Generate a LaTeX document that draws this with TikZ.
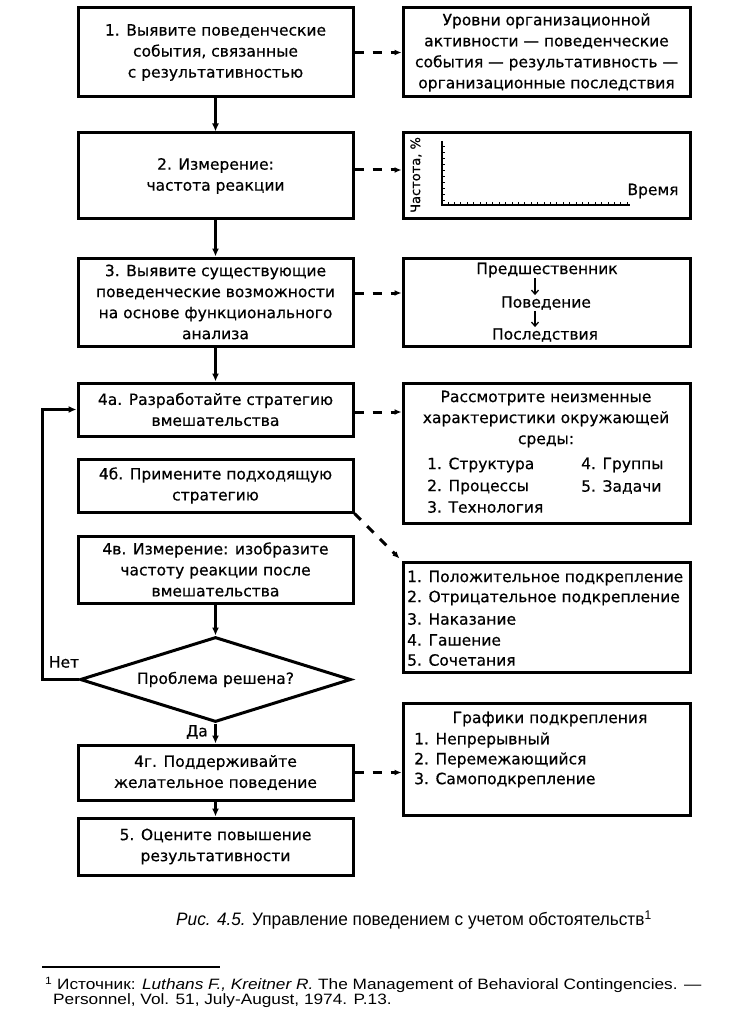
\documentclass[tikz,border=0pt]{standalone}
\usepackage{fontspec}
\setmainfont[FakeBold=0.5]{DejaVu Sans}
\newfontfamily\boxfont[FakeBold=0.5]{DejaVu Sans}
\newfontfamily\capfont[FakeStretch=0.957]{Liberation Sans}
\newfontfamily\fnfont[FakeStretch=1.15]{Liberation Sans}
\usetikzlibrary{arrows.meta,shapes.geometric}
\begin{document}
\begin{tikzpicture}[x=1pt,y=-1pt,
  every node/.style={font=\boxfont\fontsize{15.5}{21}\selectfont},
  lbox/.style={draw,line width=3pt,minimum width=275pt,inner sep=0pt,align=center},
  rbox/.style={draw,line width=3pt,minimum width=287pt,inner sep=0pt,align=center},
  txt/.style={inner sep=1pt},
  solidar/.style={line width=3pt,-{Latex[length=8pt,width=7pt]}},
  dashar/.style={line width=3pt,dash pattern=on 9pt off 9pt,-{Latex[length=7pt,width=6pt]}},
  smallar/.style={line width=1.3pt,-{Straight Barb[length=4pt,width=7pt]}},
  axis/.style={line width=2pt}]
\useasboundingbox (0,0) rectangle (733,1024);
% left column
\node[lbox,minimum height=89pt] (b1) at (215.5,52.5) {1. Выявите поведенческие\\события, связанные\\с результативностью};
\node[lbox,minimum height=86pt] (b2) at (215.5,176) {2. Измерение:\\частота реакции};
\node[lbox,minimum height=88pt] (b3) at (215.5,302) {3. Выявите существующие\\поведенческие возможности\\на основе функционального\\анализа};
\node[lbox,minimum height=53pt] (b4a) at (215.5,409.5) {4а. Разработайте стратегию\\вмешательства};
\node[lbox,minimum height=53pt] (b4b) at (215.5,485.5) {4б. Примените подходящую\\стратегию};
\node[lbox,minimum height=67pt] (b4v) at (215.5,569.5) {4в. Измерение: изобразите\\частоту реакции после\\вмешательства};
\node[draw,line width=3pt,shape=diamond,aspect=3.19,minimum width=271pt,minimum height=85pt,inner sep=0pt] (dia) at (215.5,679.5) {Проблема решена?};
\node[lbox,minimum height=55pt] (b4g) at (215.5,772.5) {4г. Поддерживайте\\желательное поведение};
\node[lbox,minimum height=57pt] (b5) at (215.5,846.5) {5. Оцените повышение\\результативности};
% right column
\node[rbox,minimum height=89pt] (r1) at (546.5,52.5) {Уровни организационной\\активности — поведенческие\\события — результативность —\\организационные последствия};
\node[rbox,minimum height=86pt] (r2) at (546.5,176) {};
\node[rbox,minimum height=88pt] (r3) at (546.5,302) {};
\node[rbox,minimum height=140pt] (r4) at (546.5,453) {};
\node[rbox,minimum height=110pt] (r5) at (546.5,617) {};
\node[rbox,minimum height=112pt] (r6) at (546.5,759) {};
% chart in r2
\coordinate (o) at (442,205);
\coordinate (ytop) at (442,141);
\coordinate (xend) at (630,205);
\draw[axis] (ytop) -- (o) -- (xend);
\foreach \i in {0,...,9} \draw[line width=1pt] (442,{147+6*\i}) -- ++(3,0);
\foreach \i in {0,...,28} \draw[line width=1pt] ({448+6.4*\i},205) -- ++(0,-3);
\node[txt,rotate=90,font=\boxfont\fontsize{13}{16}\selectfont] (yl) at (416,175) {Частота, \%};
\node[txt] (xl) at (653,191) {Время};
% r3 content
\node[txt] (pred) at (547,270) {Предшественник};
\node[txt] (pov) at (546,303) {Поведение};
\node[txt] (posl) at (545,335) {Последствия};
\coordinate (ax3) at (535,0);
\draw[smallar] (pred.south -| ax3) -- (pov.north -| ax3);
\draw[smallar] (pov.south -| ax3) -- (posl.north -| ax3);
% r4 content
\node[txt,align=center] (r4h) at (546,419) {Рассмотрите неизменные\\характеристики окружающей\\среды:};
\node[txt,anchor=west] (s1) at (426,465) {1. Структура};
\node[txt,anchor=west] (s2) at (426,487) {2. Процессы};
\node[txt,anchor=west] (s3) at (426,507) {3. Технология};
\node[txt,anchor=west] (s4) at (580,465) {4. Группы};
\node[txt,anchor=west] (s5) at (580,487) {5. Задачи};
% r5 content
\node[txt,anchor=west] (p1) at (406,578) {1. Положительное подкрепление};
\node[txt,anchor=west] (p2) at (406,598) {2. Отрицательное подкрепление};
\node[txt,anchor=west] (p3) at (406,619) {3. Наказание};
\node[txt,anchor=west] (p4) at (406,640) {4. Гашение};
\node[txt,anchor=west] (p5) at (406,660) {5. Сочетания};
% r6 content
\node[txt] (g0) at (550,719) {Графики подкрепления};
\node[txt,anchor=west] (g1) at (413,740) {1. Непрерывный};
\node[txt,anchor=west] (g2) at (413,760) {2. Перемежающийся};
\node[txt,anchor=west] (g3) at (413,780) {3. Самоподкрепление};
% solid arrows
\draw[solidar] (b1) -- (b2);
\draw[solidar] (b2) -- (b3);
\draw[solidar] (b3) -- (b4a);
\draw[solidar] (b4v) -- (dia.north);
\draw[solidar] (dia.south) -- (b4g);
\draw[solidar] (b4g) -- (b5);
\coordinate (lx) at (42,0);
\draw[solidar] (dia.west) -- (dia.west -| lx) -- (b4a.west -| lx) -- (b4a.west);
\node[txt] (net) at (64,662) {Нет};
\node[txt] (da) at (197,732) {Да};
% dashed arrows
\draw[dashar] (b1.east) -- (b1.east -| r1.west);
\draw[dashar] ([yshift=6pt]b2.east) -- ([yshift=6pt]b2.east -| r2.west);
\draw[dashar] ([yshift=9pt]b3.east) -- ([yshift=9pt]b3.east -| r3.west);
\draw[dashar] ([yshift=-2.5pt]b4a.east) -- ([yshift=-2.5pt]b4a.east -| r4.west);
\draw[dashar] (b4g.east) -- (b4g.east -| r6.west);
\draw[dashar] (b4b.south east) -- ([shift={(-2pt,2pt)}]r5.north west);
% caption and footnote
\node[anchor=west,inner sep=0pt,font=\capfont\fontsize{18}{22}\selectfont] (cap) at (176,920) {\itshape Рис. 4.5.\upshape{} Управление поведением с учетом обстоятельств\textsuperscript{1}};
\draw[line width=1.5pt] (42,967) coordinate (fr1) -- (220,967) coordinate (fr2);
\node[anchor=west,inner sep=0pt,font=\fnfont\fontsize{15}{18}\selectfont] (fn1) at (45,985) {\textsuperscript{1} Источник: \textit{Luthans F., Kreitner R.} The Management of Behavioral Contingencies. —};
\node[anchor=west,inner sep=0pt,font=\fnfont\fontsize{15}{18}\selectfont] (fn2) at (53,1001) {Personnel, Vol. 51, July-August, 1974. P.13.};
\end{tikzpicture}
\end{document}
